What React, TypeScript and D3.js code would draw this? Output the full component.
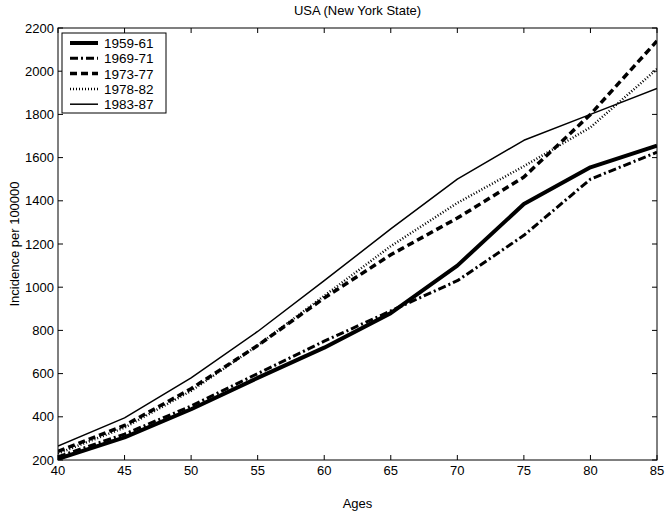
import React from "react";
import * as d3 from "d3";

const ages = [40, 45, 50, 55, 60, 65, 70, 75, 80, 85];
const s1959 = [205, 305, 435, 580, 720, 880, 1100, 1385, 1555, 1655];
const s1969 = [215, 320, 450, 600, 750, 890, 1030, 1240, 1500, 1625];
const s1973 = [240, 360, 530, 730, 950, 1150, 1320, 1510, 1800, 2140];
const s1978 = [230, 350, 520, 730, 960, 1190, 1390, 1560, 1740, 2010];
const s1983 = [265, 395, 580, 795, 1030, 1270, 1500, 1680, 1800, 1920];
const seriesNames = ["1959-61", "1969-71", "1973-77", "1978-82", "1983-87"];
const xTicks = [40, 45, 50, 55, 60, 65, 70, 75, 80, 85];
const yTicks = [200, 400, 600, 800, 1000, 1200, 1400, 1600, 1800, 2000, 2200];

const styles = [
  { w: 4, dash: "" },
  { w: 3, dash: "8,3,2,3" },
  { w: 3.5, dash: "7,4" },
  { w: 2.5, dash: "1,2" },
  { w: 1.5, dash: "" },
];

export default function App() {
  const W = 668, H = 522;
  const m = { l: 58, r: 11, t: 28, b: 62 };
  const x = d3.scaleLinear().domain([40, 85]).range([m.l, W - m.r]);
  const y = d3.scaleLinear().domain([200, 2200]).range([H - m.b, m.t]);
  const line = d3.line<number>().x((_, i) => x(ages[i])).y((v) => y(v));
  const all = [s1959, s1969, s1973, s1978, s1983];
  const font = "'Liberation Sans', Arial, sans-serif";
  const tk = 5;
  const fs = 13;
  return (
    <svg width={W} height={H} style={{ position: "absolute", left: 0, top: 0, background: "#fff" }} fontFamily={font}>
      <rect x={0} y={0} width={W} height={H} fill="#fff" />
      <defs>
        <clipPath id="clip">
          <rect x={m.l} y={m.t} width={W - m.l - m.r} height={H - m.t - m.b} />
        </clipPath>
      </defs>
      <text x={(m.l + W - m.r) / 2} y={15} textAnchor="middle" fontSize={fs}>USA (New York State)</text>
      <rect x={m.l} y={m.t} width={W - m.l - m.r} height={H - m.t - m.b} fill="none" stroke="#000" strokeWidth={1} />
      {xTicks.map((t) => (
        <g key={"x" + t}>
          <line x1={x(t)} x2={x(t)} y1={H - m.b} y2={H - m.b - tk} stroke="#000" />
          <line x1={x(t)} x2={x(t)} y1={m.t} y2={m.t + tk} stroke="#000" />
          <text x={x(t)} y={H - m.b + 15} textAnchor="middle" fontSize={fs}>{t}</text>
        </g>
      ))}
      {yTicks.map((t) => (
        <g key={"y" + t}>
          <line x1={m.l} x2={m.l + tk} y1={y(t)} y2={y(t)} stroke="#000" />
          <line x1={W - m.r} x2={W - m.r - tk} y1={y(t)} y2={y(t)} stroke="#000" />
          <text x={m.l - 4} y={y(t) + 4.5} textAnchor="end" fontSize={fs}>{t}</text>
        </g>
      ))}
      <text x={(m.l + W - m.r) / 2} y={H - m.b + 48} textAnchor="middle" fontSize={fs}>Ages</text>
      <text transform={`translate(19,${(m.t + H - m.b) / 2}) rotate(-90)`} textAnchor="middle" fontSize={fs}>Incidence per 100000</text>
      <g clipPath="url(#clip)">
        {all.map((s, i) => (
          <path key={i} d={line(s) || ""} fill="none" stroke="#000" strokeWidth={styles[i].w} strokeDasharray={styles[i].dash} strokeLinejoin="round" />
        ))}
      </g>
      <g transform={`translate(${m.l + 4},${m.t + 5})`}>
        <rect x={0} y={0} width={104} height={80} fill="#fff" stroke="#000" strokeWidth={1} />
        {seriesNames.map((n, i) => (
          <g key={n} transform={`translate(0,${10 + i * 15.3})`}>
            <line x1={8} x2={36} y1={0} y2={0} stroke="#000" strokeWidth={styles[i].w} strokeDasharray={styles[i].dash} />
            <text x={42} y={5} fontSize={13.5}>{n}</text>
          </g>
        ))}
      </g>
    </svg>
  );
}
